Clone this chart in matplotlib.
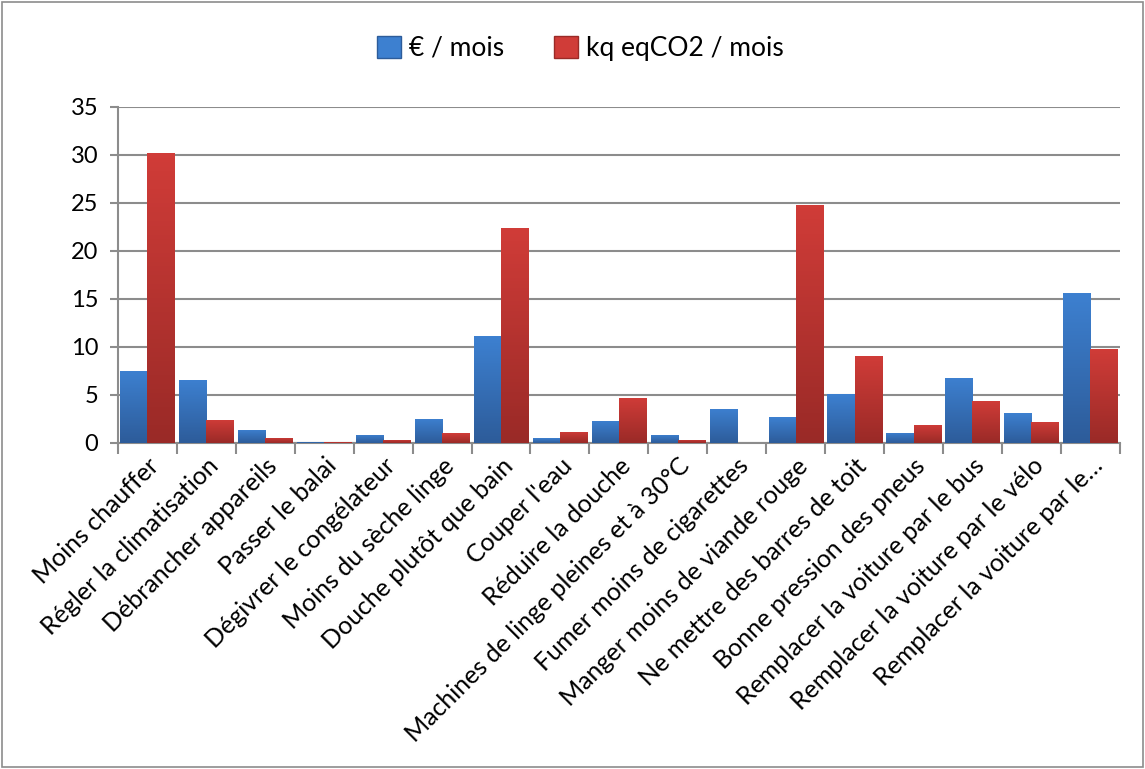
import matplotlib
matplotlib.use("Agg")
import matplotlib.pyplot as plt
import numpy as np
from matplotlib.colors import LinearSegmentedColormap
from matplotlib.patches import Rectangle, Patch

plt.rcParams["font.family"] = ["Lato", "DejaVu Sans"]

categories = [
    "Moins chauffer", "Régler la climatisation", "Débrancher appareils",
    "Passer le balai", "Dégivrer le congélateur", "Moins du sèche linge",
    "Douche plutôt que bain", "Couper l'eau", "Réduire la douche",
    "Machines de linge pleines et à 30°C", "Fumer moins de cigarettes",
    "Manger moins de viande rouge", "Ne mettre des barres de toit",
    "Bonne pression des pneus", "Remplacer la voiture par le bus",
    "Remplacer la voiture par le vélo", "Remplacer la voiture par le…",
]
euro = [7.5, 6.6, 1.4, 0.15, 0.85, 2.5, 11.1, 0.5, 2.3, 0.85, 3.55,
        2.7, 5.1, 1.05, 6.8, 3.1, 15.6]
co2 = [30.2, 2.4, 0.55, 0.05, 0.35, 1.0, 22.4, 1.15, 4.7, 0.35, 0.03,
       24.8, 9.1, 1.9, 4.4, 2.2, 9.8]

BLUE = ("#2d5c9a", "#3d80d0")
RED = ("#9a2a27", "#d03c38")

fig = plt.figure(figsize=(11.45, 7.69), dpi=100)
ax = fig.add_axes([0.103, 0.424, 0.875, 0.437])

x = np.arange(len(categories))
w = 0.46
grad = np.linspace(0, 1, 64).reshape(-1, 1)


def gradient_bars(xs, vals, cols):
    cmap = LinearSegmentedColormap.from_list("g", list(cols))
    bars = ax.bar(xs, vals, w, color=cols[1], zorder=3, lw=0)
    for b in bars:
        x0, y0 = b.get_x(), b.get_y()
        im = ax.imshow(grad, cmap=cmap, aspect="auto", origin="lower",
                       extent=(x0, x0 + b.get_width(), y0, y0 + b.get_height()),
                       zorder=3.5)
        im.set_clip_path(b)
    return bars


gradient_bars(x - w / 2, euro, BLUE)
gradient_bars(x + w / 2, co2, RED)

ax.set_xlim(-0.5, len(categories) - 0.5)
ax.set_ylim(0, 35)
ax.set_yticks(range(0, 36, 5))
ax.tick_params(axis="y", labelsize=17, length=6, width=1.5, color="#8c8c8c", pad=8)
ax.yaxis.grid(True, color="#8c8c8c", lw=1.5, zorder=1)

ax.set_xticks(np.arange(-0.5, len(categories), 1))
ax.set_xticklabels([])
ax.set_xticks(x, minor=True)
ax.set_xticklabels(categories, minor=True, rotation=45, ha="right",
                   va="top", rotation_mode="anchor", fontsize=18)
ax.tick_params(axis="x", which="major", length=8, width=1.5, color="#8c8c8c")
ax.tick_params(axis="x", which="minor", length=0, pad=8)

for s in ["top", "right"]:
    ax.spines[s].set_visible(False)
for s in ["left", "bottom"]:
    ax.spines[s].set_color("#8c8c8c")
    ax.spines[s].set_linewidth(1.5)
ax.set_axisbelow(True)

handles = [Patch(facecolor=BLUE[1], edgecolor=BLUE[0]),
           Patch(facecolor=RED[1], edgecolor=RED[0])]
fig.legend(handles, ["€ / mois", "kq eqCO2 / mois"], loc="center",
           bbox_to_anchor=(0.507, 0.937), ncol=2, frameon=False, fontsize=19,
           handlelength=0.9, handleheight=0.9, columnspacing=1.9, handletextpad=0.3)

fig.patches.append(Rectangle((0.002, 0.002), 0.996, 0.996, transform=fig.transFigure,
                             fill=False, edgecolor="#8c8c8c", lw=1.2))

fig.savefig("out.png", dpi=100)
